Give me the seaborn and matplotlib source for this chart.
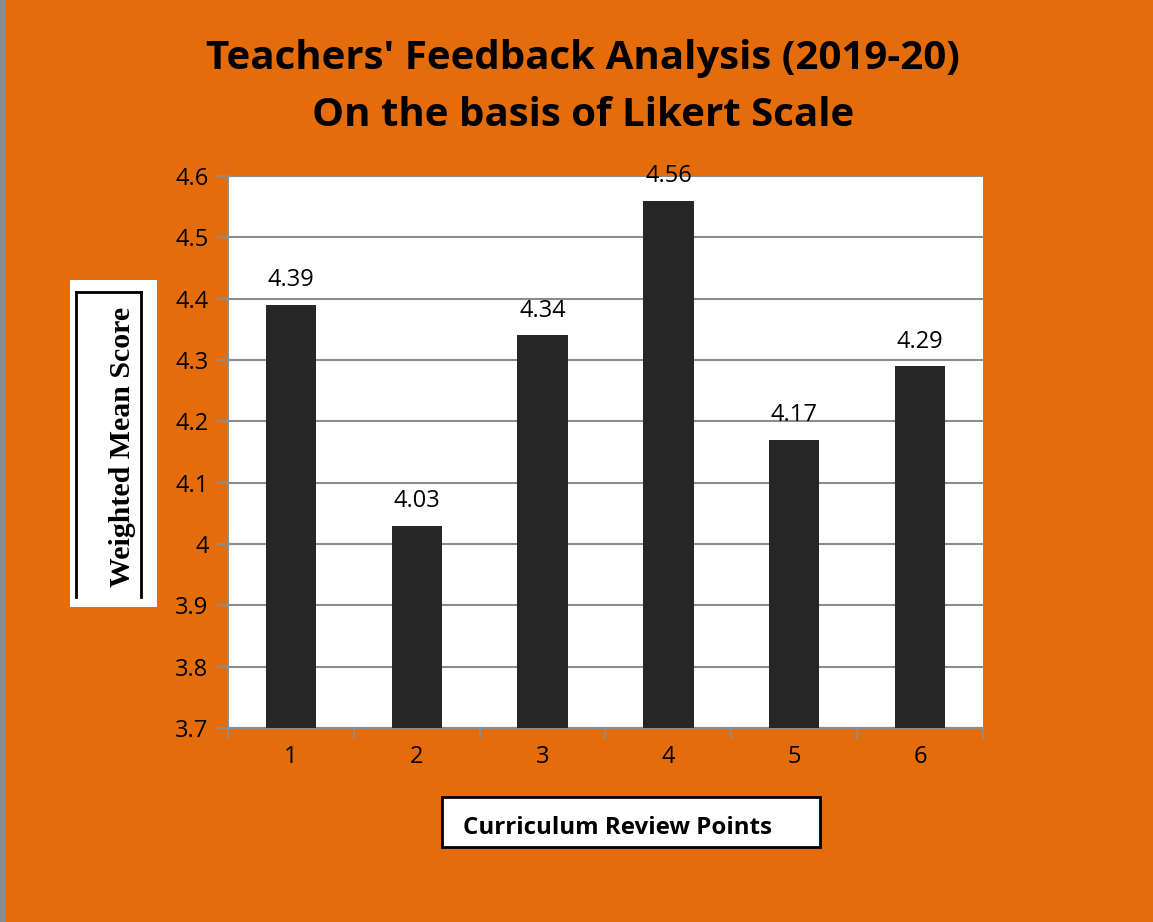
import pandas as pd
import seaborn as sns
import matplotlib.pyplot as plt
from matplotlib.patches import Rectangle
from matplotlib.lines import Line2D

# Chart data
points = ['1', '2', '3', '4', '5', '6']
scores = [4.39, 4.03, 4.34, 4.56, 4.17, 4.29]
y_ticks = [3.7, 3.8, 3.9, 4.0, 4.1, 4.2, 4.3, 4.4, 4.5, 4.6]
y_tick_labels = ['3.7', '3.8', '3.9', '4', '4.1', '4.2', '4.3', '4.4', '4.5', '4.6']

df = pd.DataFrame({'point': points, 'score': scores})

orange = '#E46C0A'
grid_gray = '#8C8C8C'

sns.set_style("white")
plt.rcParams['font.family'] = ['Open Sans', 'DejaVu Sans']
plt.rcParams['text.color'] = 'black'

fig = plt.figure(figsize=(11.53, 9.22), dpi=100, facecolor=orange)
ax = fig.add_axes([228 / 1153, 1 - 728 / 922, 755 / 1153, 552 / 922])
ax.set_facecolor('white')

sns.barplot(data=df, x='point', y='score', color='#262626',
            width=0.4, saturation=1, linewidth=0, ax=ax, zorder=3)

ax.set_ylim(3.7, 4.6)
ax.set_xlim(-0.5, 5.5)
ax.set_yticks(y_ticks)
ax.set_yticklabels(y_tick_labels, fontsize=17, color='black')
ax.tick_params(axis='y', length=8, width=1.5, color=grid_gray, pad=6,
               labelcolor='black', left=True)
ax.set_xticks(range(len(points)))
ax.set_xticklabels(points, fontsize=17, color='black')
ax.tick_params(axis='x', length=0, pad=12, labelcolor='black')

# minor x ticks at category boundaries
ax.set_xticks([i - 0.5 for i in range(len(points) + 1)], minor=True)
ax.tick_params(axis='x', which='minor', length=8, width=1.5,
               color=grid_gray, bottom=True)
ax.xaxis.grid(False, which='both')
ax.yaxis.grid(True, color=grid_gray, linewidth=1.5, zorder=0)
ax.set_axisbelow(True)

for side in ['top', 'right']:
    ax.spines[side].set_visible(False)
for side in ['left', 'bottom']:
    ax.spines[side].set_color(grid_gray)
    ax.spines[side].set_linewidth(1.5)

ax.bar_label(ax.containers[0], labels=[f'{v:.2f}' for v in scores],
             padding=9, fontsize=17, color='black')

ax.set_xlabel('')
ax.set_ylabel('')

# Title
fig.text(583 / 1153, 1 - 87 / 922,
         "Teachers' Feedback Analysis (2019-20)\nOn the basis of Likert Scale",
         ha='center', va='center', fontsize=29, fontweight='bold',
         color='black', linespacing=1.58)

# Y label box
fig.patches.append(Rectangle((70 / 1153, 1 - 607 / 922), 87 / 1153, 327 / 922,
                             transform=fig.transFigure, facecolor='white',
                             edgecolor='none'))
for xs, ys in [([76, 76], [292, 597]), ([76, 141], [292, 292]),
               ([141, 141], [292, 597])]:
    fig.lines.append(Line2D([x / 1153 for x in xs], [1 - y / 922 for y in ys],
                            transform=fig.transFigure, color='black',
                            linewidth=2, solid_capstyle='projecting'))
fig.text(123 / 1153, 1 - 447 / 922, 'Weighted Mean Score', rotation=90,
         ha='center', va='center', fontsize=21.5, fontweight='bold',
         color='black', family=['Liberation Serif', 'DejaVu Serif'])

# X label box
fig.patches.append(Rectangle((442 / 1153, 1 - 847 / 922), 378 / 1153, 50 / 922,
                             transform=fig.transFigure, facecolor='white',
                             edgecolor='black', linewidth=2))
fig.text(463 / 1153, 1 - 828 / 922, 'Curriculum Review Points',
         ha='left', va='center', fontsize=17.4, fontweight='bold',
         color='black')

# thin border strip on the left
fig.patches.append(Rectangle((0, 0), 6 / 1153, 1, transform=fig.transFigure,
                             facecolor='#8C8C8C', edgecolor='none'))

fig.savefig('out.png', dpi=100, facecolor=orange)
